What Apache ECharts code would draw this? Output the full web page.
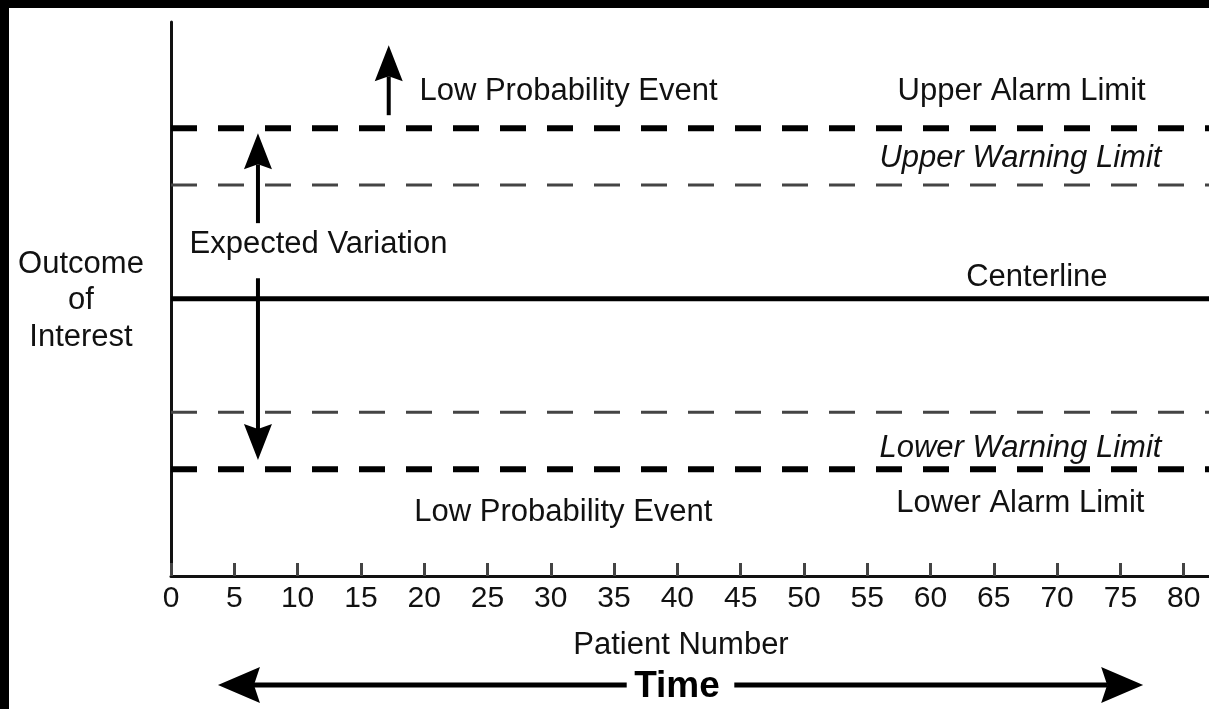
<!DOCTYPE html>
<html>
<head>
<meta charset="utf-8">
<script src="https://cdn.jsdelivr.net/npm/echarts@6/dist/echarts.min.js"></script>
<style>
  html, body { margin: 0; padding: 0; background: #fff; }
  #chart { width: 1209px; height: 709px; }
</style>
</head>
<body>
<div id="chart"></div>
<script>
// ---- data (x = patient number, y = outcome in sigma units) ----
const xTicks = [0, 5, 10, 15, 20, 25, 30, 35, 40, 45, 50, 55, 60, 65, 70, 75, 80];
const xMax = 82;
const yMin = -4.88, yMax = 4.87;

const alarmLimits = [3, -3];      // upper / lower alarm limit
const warningLimits = [2, -2];    // upper / lower warning limit
const centerline = [0];

// annotation labels (data coordinates)
const plainLabels = ['Low Probability Event', 'Upper Alarm Limit', 'Expected Variation', 'Centerline', 'Lower Alarm Limit', 'Low Probability Event'];
const plainX = [31.4, 67.2, 11.65, 68.4, 67.1, 31.0];
const plainY = [3.64, 3.65, 0.96, 0.37, -3.60, -3.76];
const italicLabels = ['Upper Warning Limit', 'Lower Warning Limit'];
const italicX = [67.1, 67.1];
const italicY = [2.47, -2.63];

// arrows: [tailX, tailY, tipX, tipY]
const plotArrows = [
  [17.2, 3.23, 17.2, 4.46],
  [6.87, 1.33, 6.87, 2.91],
  [6.87, 0.36, 6.87, -2.84]
];
const timeArrows = [
  [36.0, -6.80, 3.71, -6.80],
  [44.5, -6.80, 76.8, -6.80]
];

const FONT = '"Liberation Sans", Arial, sans-serif';
const TXT = '#111';

function limitSeries(v, width, color, dashed) {
  return {
    type: 'line', data: [[0, v], [xMax, v]], symbol: 'none', silent: true,
    lineStyle: { width: width, color: color, type: dashed ? [26, 21] : 'solid' },
    z: 2
  };
}

function arrowRender(headLen, headHalf, notch, shaftW) {
  return function (params, api) {
    const p1 = api.coord([api.value(0), api.value(1)]);
    const p2 = api.coord([api.value(2), api.value(3)]);
    const dx = p2[0] - p1[0], dy = p2[1] - p1[1];
    const len = Math.sqrt(dx * dx + dy * dy);
    const ux = dx / len, uy = dy / len;
    const nx = -uy, ny = ux;
    const bx = p2[0] - ux * headLen, by = p2[1] - uy * headLen;
    const cx = p2[0] - ux * (headLen - notch), cy = p2[1] - uy * (headLen - notch);
    return {
      type: 'group',
      children: [
        { type: 'line', shape: { x1: p1[0], y1: p1[1], x2: cx, y2: cy },
          style: { stroke: '#000', lineWidth: shaftW } },
        { type: 'polygon', shape: { points: [
            [p2[0], p2[1]],
            [bx + nx * headHalf, by + ny * headHalf],
            [cx, cy],
            [bx - nx * headHalf, by - ny * headHalf]
          ] }, style: { fill: '#000' } }
      ]
    };
  };
}

function textRender(labels, italic) {
  return function (params, api) {
    const p = api.coord([api.value(0), api.value(1)]);
    return {
      type: 'text', x: p[0], y: p[1],
      style: { text: labels[params.dataIndex], fontSize: 31, fontStyle: italic ? 'italic' : 'normal',
               fill: TXT, fontFamily: FONT, align: 'center', verticalAlign: 'middle' }
    };
  };
}

const series = [];
alarmLimits.forEach(v => series.push(limitSeries(v, 6, '#000', true)));
warningLimits.forEach(v => series.push(limitSeries(v, 3, '#444', true)));
centerline.forEach(v => series.push(limitSeries(v, 5, '#000', false)));

series.push({
  type: 'custom', silent: true, clip: false,
  data: plainLabels.map((t, i) => [plainX[i], plainY[i]]),
  renderItem: textRender(plainLabels, false), z: 5
});
series.push({
  type: 'custom', silent: true, clip: false,
  data: italicLabels.map((t, i) => [italicX[i], italicY[i]]),
  renderItem: textRender(italicLabels, true), z: 5
});
series.push({
  type: 'custom', silent: true, clip: false, data: plotArrows,
  renderItem: arrowRender(36, 14, 5, 4), z: 6
});
series.push({
  type: 'custom', silent: true, clip: false, data: timeArrows,
  renderItem: arrowRender(42, 18, 6, 5), z: 6
});

const chart = echarts.init(document.getElementById('chart'));
chart.setOption({
  backgroundColor: '#fff',
  animation: false,
  grid: { left: 171, right: 0, top: 22, bottom: 133, containLabel: false },
  xAxis: {
    type: 'value', min: 0, max: xMax, interval: 5,
    name: 'Patient Number', nameLocation: 'middle', nameGap: 54,
    nameTextStyle: { fontSize: 31, color: TXT, fontFamily: FONT, padding: [0, 18, 0, 0] },
    axisLine: { show: true, onZero: false, lineStyle: { color: '#111', width: 3 } },
    axisTick: { show: true, inside: true, length: 13, customValues: xTicks, lineStyle: { color: '#444', width: 3 } },
    axisLabel: { show: true, customValues: xTicks, fontSize: 30, color: TXT, fontFamily: FONT, margin: 8 },
    splitLine: { show: false }
  },
  yAxis: {
    type: 'value', min: yMin, max: yMax,
    axisLine: { show: true, onZero: false, lineStyle: { color: '#111', width: 3 } },
    axisTick: { show: false }, axisLabel: { show: false }, splitLine: { show: false }
  },
  graphic: [
    { type: 'rect', shape: { x: 0, y: 0, width: 1209, height: 8 }, style: { fill: '#000' }, z: 100 },
    { type: 'rect', shape: { x: 0, y: 0, width: 9, height: 709 }, style: { fill: '#000' }, z: 100 },
    { type: 'text', x: 81, y: 264, style: { text: 'Outcome', fontSize: 31, fill: TXT, fontFamily: FONT, align: 'center', verticalAlign: 'middle' } },
    { type: 'text', x: 81, y: 300, style: { text: 'of', fontSize: 31, fill: TXT, fontFamily: FONT, align: 'center', verticalAlign: 'middle' } },
    { type: 'text', x: 81, y: 337, style: { text: 'Interest', fontSize: 31, fill: TXT, fontFamily: FONT, align: 'center', verticalAlign: 'middle' } },
    { type: 'text', x: 677, y: 687, style: { text: 'Time', fontSize: 37, fontWeight: 'bold', fill: '#000', fontFamily: FONT, align: 'center', verticalAlign: 'middle' } }
  ],
  series: series
});
</script>
</body>
</html>
